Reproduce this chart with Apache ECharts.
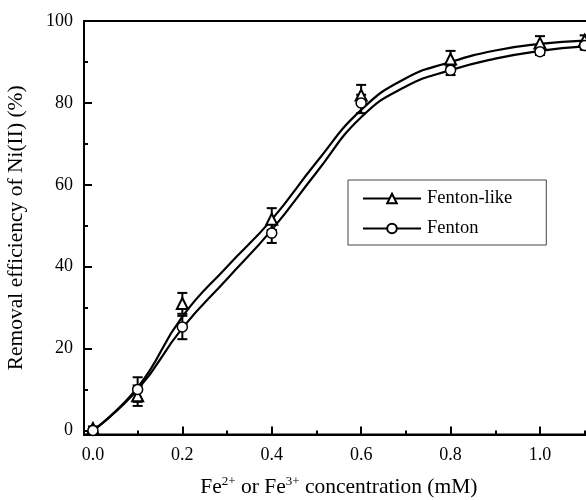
<!DOCTYPE html>
<html>
<head>
<meta charset="utf-8">
<script src="https://cdn.jsdelivr.net/npm/echarts@6/dist/echarts.min.js"></script>
<style>html,body{margin:0;padding:0;background:#fff}#c{width:586px;height:500px}</style>
</head>
<body>
<div id="c"></div>
<script>
// ---- data ----
const xMeasured = [0, 0.1, 0.2, 0.4, 0.6, 0.8, 1.0, 1.1];
const fentonLike = [0.5, 8.5, 31, 51.6, 81.9, 90.7, 94.6, 95.3];
const fentonLikeLow = [0, 6, 28.5, 49, 79.5, 89, 93, 94];
const fentonLikeHigh = [1, 11, 33.6, 54.3, 84.4, 92.7, 96.3, 96.5];
const fenton = [0, 10, 25.3, 48.2, 80, 88, 92.5, 94];
const fentonLow = [0, 7, 22.3, 45.8, 77.5, 86.8, 91.7, 93];
const fentonHigh = [0.5, 13, 28, 50.5, 82, 89.3, 93.5, 95];
// fitted curves, read at regular x positions
const xCurve = [0, 0.1, 0.2, 0.3, 0.4, 0.5, 0.6, 0.7, 0.8, 0.9, 1.0, 1.1];
const fentonLikeCurve = [0, 10.5, 27.8, 40, 51.5, 65.5, 78.3, 86, 90, 92.8, 94.4, 95.2];
const fentonCurve = [0, 10, 25, 37, 49, 63, 76.5, 84, 88, 90.8, 92.7, 93.8];
const yMajor = [0, 20, 40, 60, 80, 100];
const yMinor = [10, 30, 50, 70, 90];
const xMajor = [0, 0.2, 0.4, 0.6, 0.8, 1.0];
const xMinor = [0.1, 0.3, 0.5, 0.7, 0.9, 1.1];

const FONT = '"Liberation Serif", "Times New Roman", serif';
const pairs = (xs, ys) => xs.map((x, i) => [x, ys[i]]);
const errs = (xs, lo, hi) => xs.map((x, i) => [x, lo[i], hi[i]]);

function errRender(params, api) {
  const x = api.value(0), lo = api.value(1), hi = api.value(2);
  const pLo = api.coord([x, lo]), pHi = api.coord([x, hi]);
  const w = 5;
  const st = {stroke: '#000', lineWidth: 2};
  return {type: 'group', children: [
    {type: 'line', shape: {x1: pLo[0], y1: pLo[1], x2: pHi[0], y2: pHi[1]}, style: st},
    {type: 'line', shape: {x1: pLo[0]-w, y1: pLo[1], x2: pLo[0]+w, y2: pLo[1]}, style: st},
    {type: 'line', shape: {x1: pHi[0]-w, y1: pHi[1], x2: pHi[0]+w, y2: pHi[1]}, style: st}
  ]};
}

const chart = echarts.init(document.getElementById('c'));
chart.setOption({
  animation: false,
  backgroundColor: '#fff',
  grid: {left: 84, right: -7.6, top: 21, bottom: 65.4, outerBoundsMode: 'none', containLabel: false,
         show: true, borderColor: '#000', borderWidth: 2, backgroundColor: 'transparent'},
  legend: {
    orient: 'vertical', left: 348, top: 180,
    padding: [9, 34, 7, 14], itemGap: 11,
    itemWidth: 58, itemHeight: 12,
    borderColor: '#444', borderWidth: 1,
    textStyle: {fontFamily: FONT, fontSize: 18.5, color: '#000', padding: [0, 0, 0, 1]},
    lineStyle: {color: '#000', width: 2, opacity: 1},
    data: ['Fenton-like', 'Fenton']
  },
  xAxis: [{
    type: 'value', min: -0.02, max: 1.12,
    axisLine: {show: true, onZero: false, lineStyle: {color: '#000', width: 2}},
    splitLine: {show: false},
    axisTick: {show: true, inside: true, length: 8, lineStyle: {color: '#000', width: 2}, customValues: xMajor},
    axisLabel: {customValues: xMajor, fontFamily: FONT, fontSize: 18, color: '#000', margin: 12, formatter: v => v.toFixed(1)},
    name: '{n|Fe}{s|2+}{n| or Fe}{s|3+}{n| concentration (mM)}',
    nameLocation: 'middle', nameGap: 40,
    nameTextStyle: {fontFamily: FONT, fontSize: 21.5, color: '#000',
      rich: {n: {fontFamily: FONT, fontSize: 21.5, color: '#000'}, s: {fontFamily: FONT, fontSize: 13, color: '#000', verticalAlign: 'top', padding: [0, 0, 12, 0]}}}
  }, {
    type: 'value', min: -0.02, max: 1.12, position: 'bottom',
    axisLine: {show: false, onZero: false}, splitLine: {show: false}, axisLabel: {show: false},
    axisTick: {show: true, inside: true, length: 4, lineStyle: {color: '#000', width: 2}, customValues: xMinor}
  }],
  yAxis: [{
    type: 'value', min: -1, max: 100,
    axisLine: {show: true, onZero: false, lineStyle: {color: '#000', width: 2}},
    splitLine: {show: false},
    axisTick: {show: true, inside: true, length: 8, lineStyle: {color: '#000', width: 2}, customValues: yMajor},
    axisLabel: {customValues: yMajor, fontFamily: FONT, fontSize: 18, color: '#000', margin: 11},
    name: 'Removal efficiency of Ni(II) (%)', nameLocation: 'middle', nameGap: 57,
    nameTextStyle: {fontFamily: FONT, fontSize: 21.5, color: '#000'}
  }, {
    type: 'value', min: -1, max: 100, position: 'left',
    axisLine: {show: false, onZero: false}, splitLine: {show: false}, axisLabel: {show: false},
    axisTick: {show: true, inside: true, length: 4, lineStyle: {color: '#000', width: 2}, customValues: yMinor}
  }],
  series: [
    {type: 'line', name: 'Fenton-like curve', data: pairs(xCurve, fentonLikeCurve), smooth: 0.5, showSymbol: false, symbol: 'none',
     lineStyle: {color: '#000', width: 2.2}, clip: false, silent: true, z: 2},
    {type: 'line', name: 'Fenton curve', data: pairs(xCurve, fentonCurve), smooth: 0.5, showSymbol: false, symbol: 'none',
     lineStyle: {color: '#000', width: 2.2}, clip: false, silent: true, z: 2},
    {type: 'custom', name: 'Fenton-like err', data: errs(xMeasured, fentonLikeLow, fentonLikeHigh), renderItem: errRender, clip: false, z: 3},
    {type: 'custom', name: 'Fenton err', data: errs(xMeasured, fentonLow, fentonHigh), renderItem: errRender, clip: false, z: 3},
    {type: 'line', name: 'Fenton-like', data: pairs(xMeasured, fentonLike), symbol: 'triangle', symbolSize: 11,
     lineStyle: {width: 0, opacity: 0, color: '#000'}, itemStyle: {color: '#fff', borderColor: '#000', borderWidth: 2}, clip: false, z: 4},
    {type: 'line', name: 'Fenton', data: pairs(xMeasured, fenton), symbol: 'circle', symbolSize: 10,
     lineStyle: {width: 0, opacity: 0, color: '#000'}, itemStyle: {color: '#fff', borderColor: '#000', borderWidth: 1.5}, clip: false, z: 4}
  ]
});
</script>
</body>
</html>
